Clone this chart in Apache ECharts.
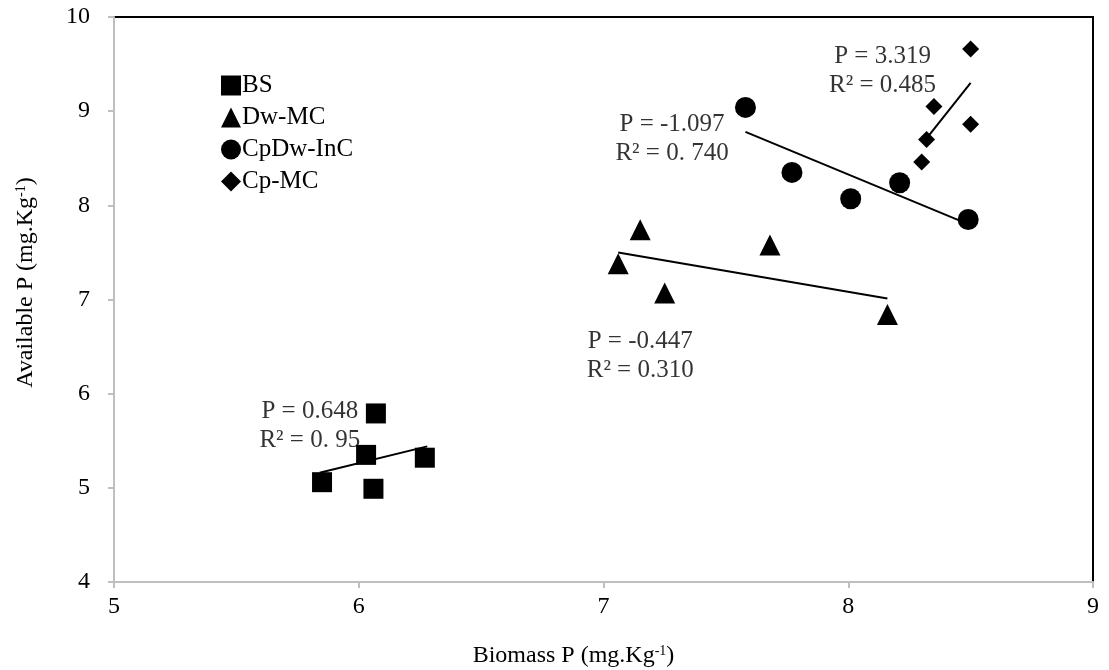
<!DOCTYPE html>
<html>
<head>
<meta charset="utf-8">
<script src="https://cdn.jsdelivr.net/npm/echarts@6/dist/echarts.min.js"></script>
<style>
  html, body { margin: 0; padding: 0; background: #fff; }
  #chart { width: 1109px; height: 670px; }
</style>
</head>
<body>
<div id="chart"></div>
<script>
// data
const bsX = [5.85, 6.03, 6.07, 6.06, 6.27];
const bsY = [5.06, 5.35, 5.79, 4.99, 5.32];
const dwX = [7.06, 7.15, 7.25, 7.68, 8.16];
const dwY = [7.38, 7.74, 7.07, 7.58, 6.84];
const cpdwX = [7.58, 7.77, 8.01, 8.21, 8.49];
const cpdwY = [9.04, 8.35, 8.07, 8.24, 7.85];
const cpX = [8.50, 8.35, 8.50, 8.32, 8.30];
const cpY = [9.66, 9.05, 8.86, 8.70, 8.46];

// trend lines, start and end
const bsTrendX = [5.84, 6.28];
const bsTrendY = [5.16, 5.44];
const dwTrendX = [7.06, 8.16];
const dwTrendY = [7.50, 7.01];
const cpdwTrendX = [7.58, 8.49];
const cpdwTrendY = [8.78, 7.80];
const cpTrendX = [8.32, 8.50];
const cpTrendY = [8.71, 9.30];

// equation labels
const noteX = [5.80, 7.15, 7.28, 8.14];
const noteY = [5.66, 6.40, 8.70, 9.43];
const noteText = [
  'P = 0.648\nR² = 0. 95',
  'P = -0.447\nR² = 0.310',
  'P = -1.097\nR² = 0. 740',
  'P = 3.319\nR² = 0.485'
];

const xTicks = [5, 6, 7, 8, 9];
const yTicks = [4, 5, 6, 7, 8, 9, 10];

const font = 'Liberation Serif';

function pairs(xs, ys) {
  let out = [];
  for (let i = 0; i < xs.length; i++) out.push([xs[i], ys[i]]);
  return out;
}

function trend(xs, ys) {
  return {
    type: 'line',
    data: pairs(xs, ys),
    symbol: 'none',
    lineStyle: { color: '#000', width: 2 },
    silent: true,
    z: 3
  };
}

function dots(name, xs, ys, symbol, size) {
  return {
    name: name,
    type: 'scatter',
    data: pairs(xs, ys),
    symbol: symbol,
    symbolSize: size,
    itemStyle: { color: '#000', opacity: 1 },
    z: 4
  };
}

var chart = echarts.init(document.getElementById('chart'));

var notes = [];
for (var i = 0; i < noteText.length; i++) {
  notes.push({
    value: [noteX[i], noteY[i]],
    label: { formatter: noteText[i] }
  });
}

var nameRich = {
  a: { fontFamily: font, fontSize: 24, color: '#000' },
  s: { fontFamily: font, fontSize: 14, color: '#000', verticalAlign: 'top', padding: [0, 0, 9, 0] }
};

var option = {
  animation: false,
  backgroundColor: '#fff',
  textStyle: { fontFamily: font },
  grid: {
    left: 114, top: 17, right: 16, bottom: 88,
    outerBoundsMode: 'none',
    containLabel: false,
    show: true, borderColor: '#000', borderWidth: 2
  },
  legend: {
    data: ['BS', 'Dw-MC', 'CpDw-InC', 'Cp-MC'],
    orient: 'vertical',
    left: 216,
    top: 68,
    itemWidth: 20,
    itemHeight: 20,
    itemGap: 7,
    textStyle: { fontFamily: font, fontSize: 25, color: '#000', padding: [0, 0, 0, -4] }
  },
  xAxis: {
    type: 'value',
    min: xTicks[0],
    max: xTicks[xTicks.length - 1],
    interval: 1,
    name: '{a|Biomass P (mg.Kg}{s|-1}{a|)}',
    nameLocation: 'middle',
    nameGap: 62,
    nameTextStyle: { rich: nameRich, padding: [0, 60, 0, 0] },
    axisLine: { show: true, lineStyle: { color: '#bfbfbf', width: 2 } },
    axisTick: { show: true, length: 6, lineStyle: { color: '#bfbfbf', width: 2 } },
    axisLabel: { fontFamily: font, fontSize: 24, color: '#000', margin: 13 },
    splitLine: { show: false }
  },
  yAxis: {
    type: 'value',
    min: yTicks[0],
    max: yTicks[yTicks.length - 1],
    interval: 1,
    name: '{a|Available P (mg.Kg}{s|-1}{a|)}',
    nameLocation: 'middle',
    nameGap: 76,
    nameRotate: 90,
    nameTextStyle: { rich: nameRich, padding: [0, 0, 0, 34] },
    axisLine: { show: true, lineStyle: { color: '#bfbfbf', width: 2 } },
    axisTick: { show: true, length: 6, lineStyle: { color: '#bfbfbf', width: 2 } },
    axisLabel: { fontFamily: font, fontSize: 24, color: '#000', margin: 24 },
    splitLine: { show: false }
  },
  series: [
    dots('BS', bsX, bsY, 'rect', 20),
    dots('Dw-MC', dwX, dwY, 'triangle', 21),
    dots('CpDw-InC', cpdwX, cpdwY, 'circle', 21),
    dots('Cp-MC', cpX, cpY, 'diamond', 17),
    trend(bsTrendX, bsTrendY),
    trend(dwTrendX, dwTrendY),
    trend(cpdwTrendX, cpdwTrendY),
    trend(cpTrendX, cpTrendY),
    {
      type: 'scatter',
      data: notes,
      symbolSize: 0,
      silent: true,
      itemStyle: { color: '#000' },
      label: {
        show: true,
        position: 'inside',
        fontFamily: font,
        fontSize: 25,
        lineHeight: 29,
        color: '#000',
        textBorderWidth: 0,
        align: 'center'
      },
      z: 5
    }
  ]
};

chart.setOption(option);
</script>
</body>
</html>
